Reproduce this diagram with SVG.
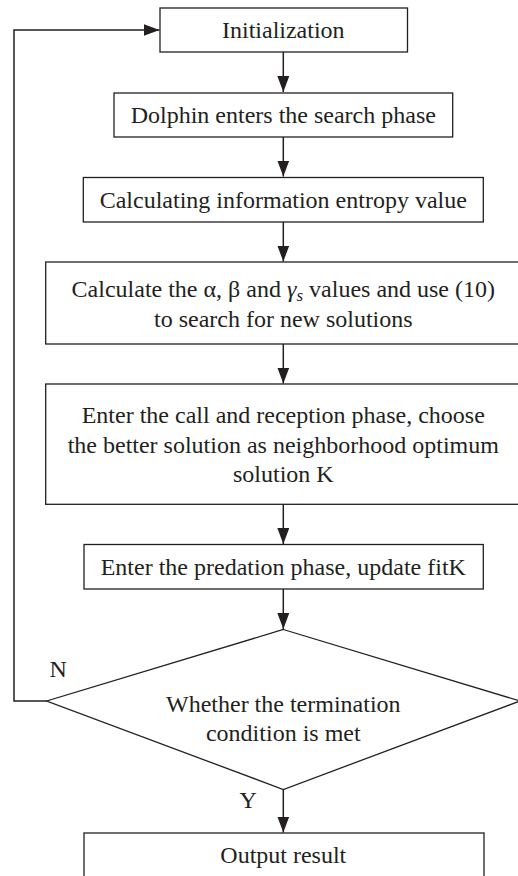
<svg xmlns="http://www.w3.org/2000/svg" width="518" height="876" viewBox="0 0 518 876">
<style>
  .box { fill: #ffffff; stroke: #231f20; stroke-width: 1.3; }
  .t { font-family: "Liberation Serif", "Times New Roman", serif; font-size: 24px; fill: #231f20; text-anchor: middle; }
  .lbl { font-family: "Liberation Serif", "Times New Roman", serif; font-size: 24px; fill: #231f20; }
  .conn { fill: none; stroke: #231f20; stroke-width: 1.5; }
</style>
<defs>
  <marker id="arrow" markerUnits="userSpaceOnUse" markerWidth="16" markerHeight="12" refX="16" refY="6" orient="auto">
    <path d="M0,0 L16,6 L0,12 z" fill="#231f20"/>
  </marker>
</defs>
<rect width="518" height="876" fill="#ffffff"/>

<g id="connectors">
  <line class="conn" x1="283.3" y1="52" x2="283.3" y2="92" marker-end="url(#arrow)"/>
  <line class="conn" x1="283.3" y1="137" x2="283.3" y2="176.5" marker-end="url(#arrow)"/>
  <line class="conn" x1="283.3" y1="222" x2="283.3" y2="261.5" marker-end="url(#arrow)"/>
  <line class="conn" x1="283.3" y1="344" x2="283.3" y2="383.5" marker-end="url(#arrow)"/>
  <line class="conn" x1="283.3" y1="504" x2="283.3" y2="544" marker-end="url(#arrow)"/>
  <line class="conn" x1="283.3" y1="589" x2="283.3" y2="629" marker-end="url(#arrow)"/>
  <line class="conn" x1="283.3" y1="789.5" x2="283.3" y2="832.5" marker-end="url(#arrow)"/>
  <polyline class="conn" points="46.7,701 14,701 14,30 159.5,30" marker-end="url(#arrow)"/>
  <text class="lbl" x="49.5" y="677">N</text>
  <text class="lbl" x="239.5" y="808">Y</text>
</g>

<g id="init">
  <rect class="box" x="160" y="8" width="247.5" height="44"/>
  <text class="t" x="283.3" y="38.3">Initialization</text>
</g>

<g id="search">
  <rect class="box" x="114" y="93" width="338.7" height="44"/>
  <text class="t" x="283.3" y="123">Dolphin enters the search phase</text>
</g>

<g id="entropy">
  <rect class="box" x="83.3" y="177.5" width="400" height="44.5"/>
  <text class="t" x="283.3" y="207.5">Calculating information entropy value</text>
</g>

<g id="calc">
  <rect class="box" x="45.7" y="262" width="475" height="82"/>
  <text class="t" x="283.3" y="296.7">Calculate the α, β and <tspan font-style="italic">γ</tspan><tspan font-style="italic" font-size="17" dy="4">s</tspan><tspan dy="-4"> values and use (10)</tspan></text>
  <text class="t" x="283.3" y="326.7">to search for new solutions</text>
</g>

<g id="call">
  <rect class="box" x="45.7" y="384" width="475" height="120.3"/>
  <text class="t" x="283.3" y="423">Enter the call and reception phase, choose</text>
  <text class="t" x="283.3" y="453">the better solution as neighborhood optimum</text>
  <text class="t" x="283.3" y="482">solution K</text>
</g>

<g id="predation">
  <rect class="box" x="84" y="544.5" width="399.3" height="44.5"/>
  <text class="t" x="283.3" y="575">Enter the predation phase, update fitK</text>
</g>

<g id="decision">
  <polygon class="box" points="283.3,629.5 520,701 283.3,789.5 46.7,701"/>
  <text class="t" x="283.3" y="711.7">Whether the termination</text>
  <text class="t" x="283.3" y="740.5">condition is met</text>
</g>

<g id="output">
  <rect class="box" x="84" y="833" width="400" height="60"/>
  <text class="t" x="283.3" y="863">Output result</text>
</g>
</svg>
